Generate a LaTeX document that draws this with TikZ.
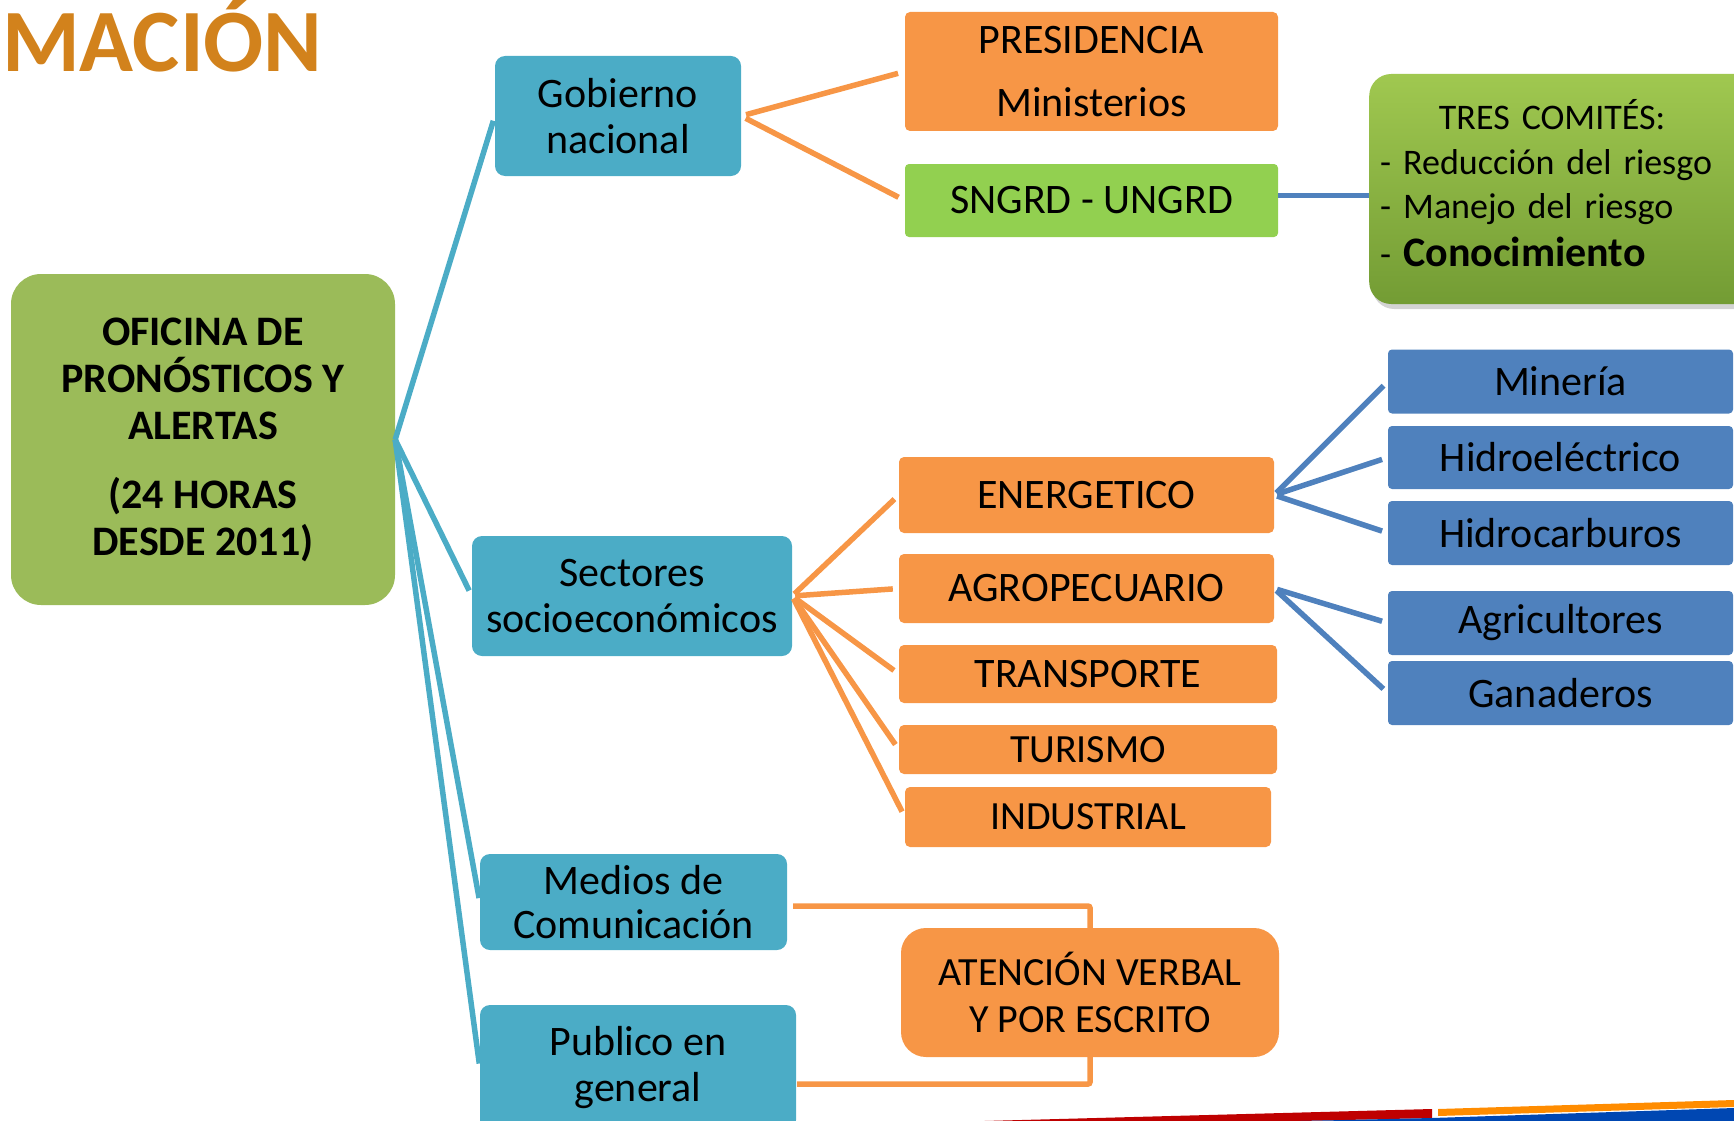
\documentclass[tikz,border=0pt]{standalone}
\usepackage{fontspec}
\setmainfont{Carlito}
\usetikzlibrary{shadows}

\definecolor{verdeofi}{RGB}{155,187,89}
\definecolor{turquesa}{RGB}{75,172,198}
\definecolor{naranja}{RGB}{247,150,70}
\definecolor{lima}{RGB}{146,208,80}
\definecolor{azulsec}{RGB}{79,129,189}
\definecolor{titulo}{RGB}{210,130,28}
\definecolor{comsup}{RGB}{160,200,80}
\definecolor{cominf}{RGB}{115,156,52}

\begin{document}
\begin{tikzpicture}[x=1pt,y=-1pt,
	caja/.style={inner sep=0pt, align=center, font=\fontsize{42}{46.5}\selectfont},
	cturq/.style={caja, fill=turquesa, rounded corners=10pt},
	cnar/.style={caja, fill=naranja, rounded corners=5pt},
	cazul/.style={caja, fill=azulsec, rounded corners=4pt, minimum width=345pt, minimum height=64pt},
	lturq/.style={turquesa, line width=5.5pt},
	lnar/.style={naranja, line width=5.5pt},
	lazul/.style={azulsec, line width=5.5pt}]
	\useasboundingbox (0,0) rectangle (1734,1121);
	\clip (0,0) rectangle (1734,1121);

	\node [anchor=base west, inner sep=0pt, text=titulo, font=\fontsize{89}{90}\selectfont\bfseries] (tit) at (2,72) {MACIÓN};

	% oficina central
	\node [caja, fill=verdeofi, rounded corners=30pt, minimum width=384pt, minimum height=331pt, font=\fontsize{42}{47}\selectfont\bfseries] (ofi) at (203,439.5) {OFICINA DE\\PRONÓSTICOS Y\\ALERTAS\\[22pt](24 HORAS\\DESDE 2011)};

	% primer nivel
	\node [cturq, minimum width=246pt, minimum height=120pt] (gob) at (618,116) {Gobierno\\nacional};
	\node [cturq, minimum width=320pt, minimum height=120pt] (sect) at (632,596) {Sectores\\socioeconómicos};
	\node [cturq, minimum width=307pt, minimum height=96pt, font=\fontsize{42}{44}\selectfont] (med) at (633.5,902) {Medios de\\Comunicación};
	\node [cturq, minimum width=316pt, minimum height=125pt] (pub) at (638,1067.5) {Publico en\\general};

	% gobierno
	\node [cnar, minimum width=373pt, minimum height=119pt] (pres) at (1091.5,71.5) {PRESIDENCIA\\[17pt]Ministerios};
	\node [caja, fill=lima, rounded corners=4pt, minimum width=373pt, minimum height=73pt] (sngrd) at (1091.5,200.5) {SNGRD - UNGRD};
	\node [caja, align=left, anchor=west, top color=comsup, bottom color=cominf, rounded corners=22pt, drop shadow={shadow xshift=3pt, shadow yshift=-5pt, opacity=0.35}, minimum width=400pt, minimum height=230pt, inner xsep=11pt, text width=378pt, font=\fontsize{36}{44.5}\selectfont] (tres) at (1369,189) {\begin{tabular}{@{}l@{}}\multicolumn{1}{@{}c@{}}{\hspace{12pt}TRES COMITÉS:}\\- Reducción del riesgo\\- Manejo del riesgo\\[3pt]- {\fontsize{42}{44}\selectfont\bfseries Conocimiento}\end{tabular}};

	% sectores
	\node [cnar, minimum width=375pt, minimum height=76pt] (ener) at (1086.5,495) {ENERGETICO};
	\node [cnar, minimum width=375pt, minimum height=69pt] (agro) at (1086.5,588.5) {AGROPECUARIO};
	\node [cnar, minimum width=378pt, minimum height=58pt] (trans) at (1088,674) {TRANSPORTE};
	\node [cnar, minimum width=378pt, minimum height=49pt, font=\fontsize{40}{44}\selectfont] (tur) at (1088,749.5) {TURISMO};
	\node [cnar, minimum width=366pt, minimum height=60pt, font=\fontsize{40}{44}\selectfont] (ind) at (1088,817) {INDUSTRIAL};

	\node [cazul] (min) at (1560.5,381.5) {Minería};
	\node [cazul, minimum height=63pt] (hidroe) at (1560.5,457.5) {Hidroeléctrico};
	\node [cazul] (hidroc) at (1560.5,533) {Hidrocarburos};
	\node [cazul] (agri) at (1560.5,623) {Agricultores};
	\node [cazul] (gan) at (1560.5,693) {Ganaderos};

	\node [caja, fill=naranja, rounded corners=25pt, minimum width=378pt, minimum height=129pt, font=\fontsize{40}{47}\selectfont] (aten) at (1090,992.5) {ATENCIÓN VERBAL\\Y POR ESCRITO};
	\coordinate (pubR) at (797,1084);

	% conectores
	\draw [lturq, shorten >=5pt] (ofi.east) -- (gob.west);
	\draw [lturq, shorten >=6pt] (ofi.east) -- (sect.west);
	\draw [lturq, shorten >=4pt] (ofi.east) -- (med.west);
	\draw [lturq, shorten >=4pt] (ofi.east) -- (pub.west);

	\draw [lnar, shorten <=5pt, shorten >=7pt] (gob.east) -- (pres.west);
	\draw [lnar, shorten <=5pt, shorten >=7pt] (gob.east) -- (sngrd.west);
	\draw [lazul, transform canvas={yshift=5pt}] (sngrd.east) -- (tres.west |- sngrd.east);

	\foreach \s in {ener,agro,trans,tur,ind}
		\draw [lnar, shorten <=3pt, shorten >=6pt] (sect.east) -- (\s.west);
	\foreach \s in {min,hidroe,hidroc}
		\draw [lazul, shorten <=3pt, shorten >=6pt] (ener.east) -- (\s.west);
	\foreach \s in {agri,gan}
		\draw [lazul, shorten <=3pt, shorten >=6pt] (agro.east) -- (\s.west);

	\draw [lnar, rounded corners=2pt] ([xshift=6pt,yshift=-4pt]med.east) -| (aten.north);
	\draw [lnar, rounded corners=2pt] (pubR) -| (aten.south);

	% franja inferior
	\fill [red!75!black] (984,1121) -- (1432,1109) -- (1432,1118) -- (1300,1121) -- cycle;
	\fill [blue!60!cyan!70!black] (1300,1121) -- (1432,1118) -- (1734,1108) -- (1734,1121) -- cycle;
	\fill [orange!90!yellow] (1438,1109) -- (1734,1100) -- (1734,1107) -- (1438,1116) -- cycle;
\end{tikzpicture}
\end{document}
